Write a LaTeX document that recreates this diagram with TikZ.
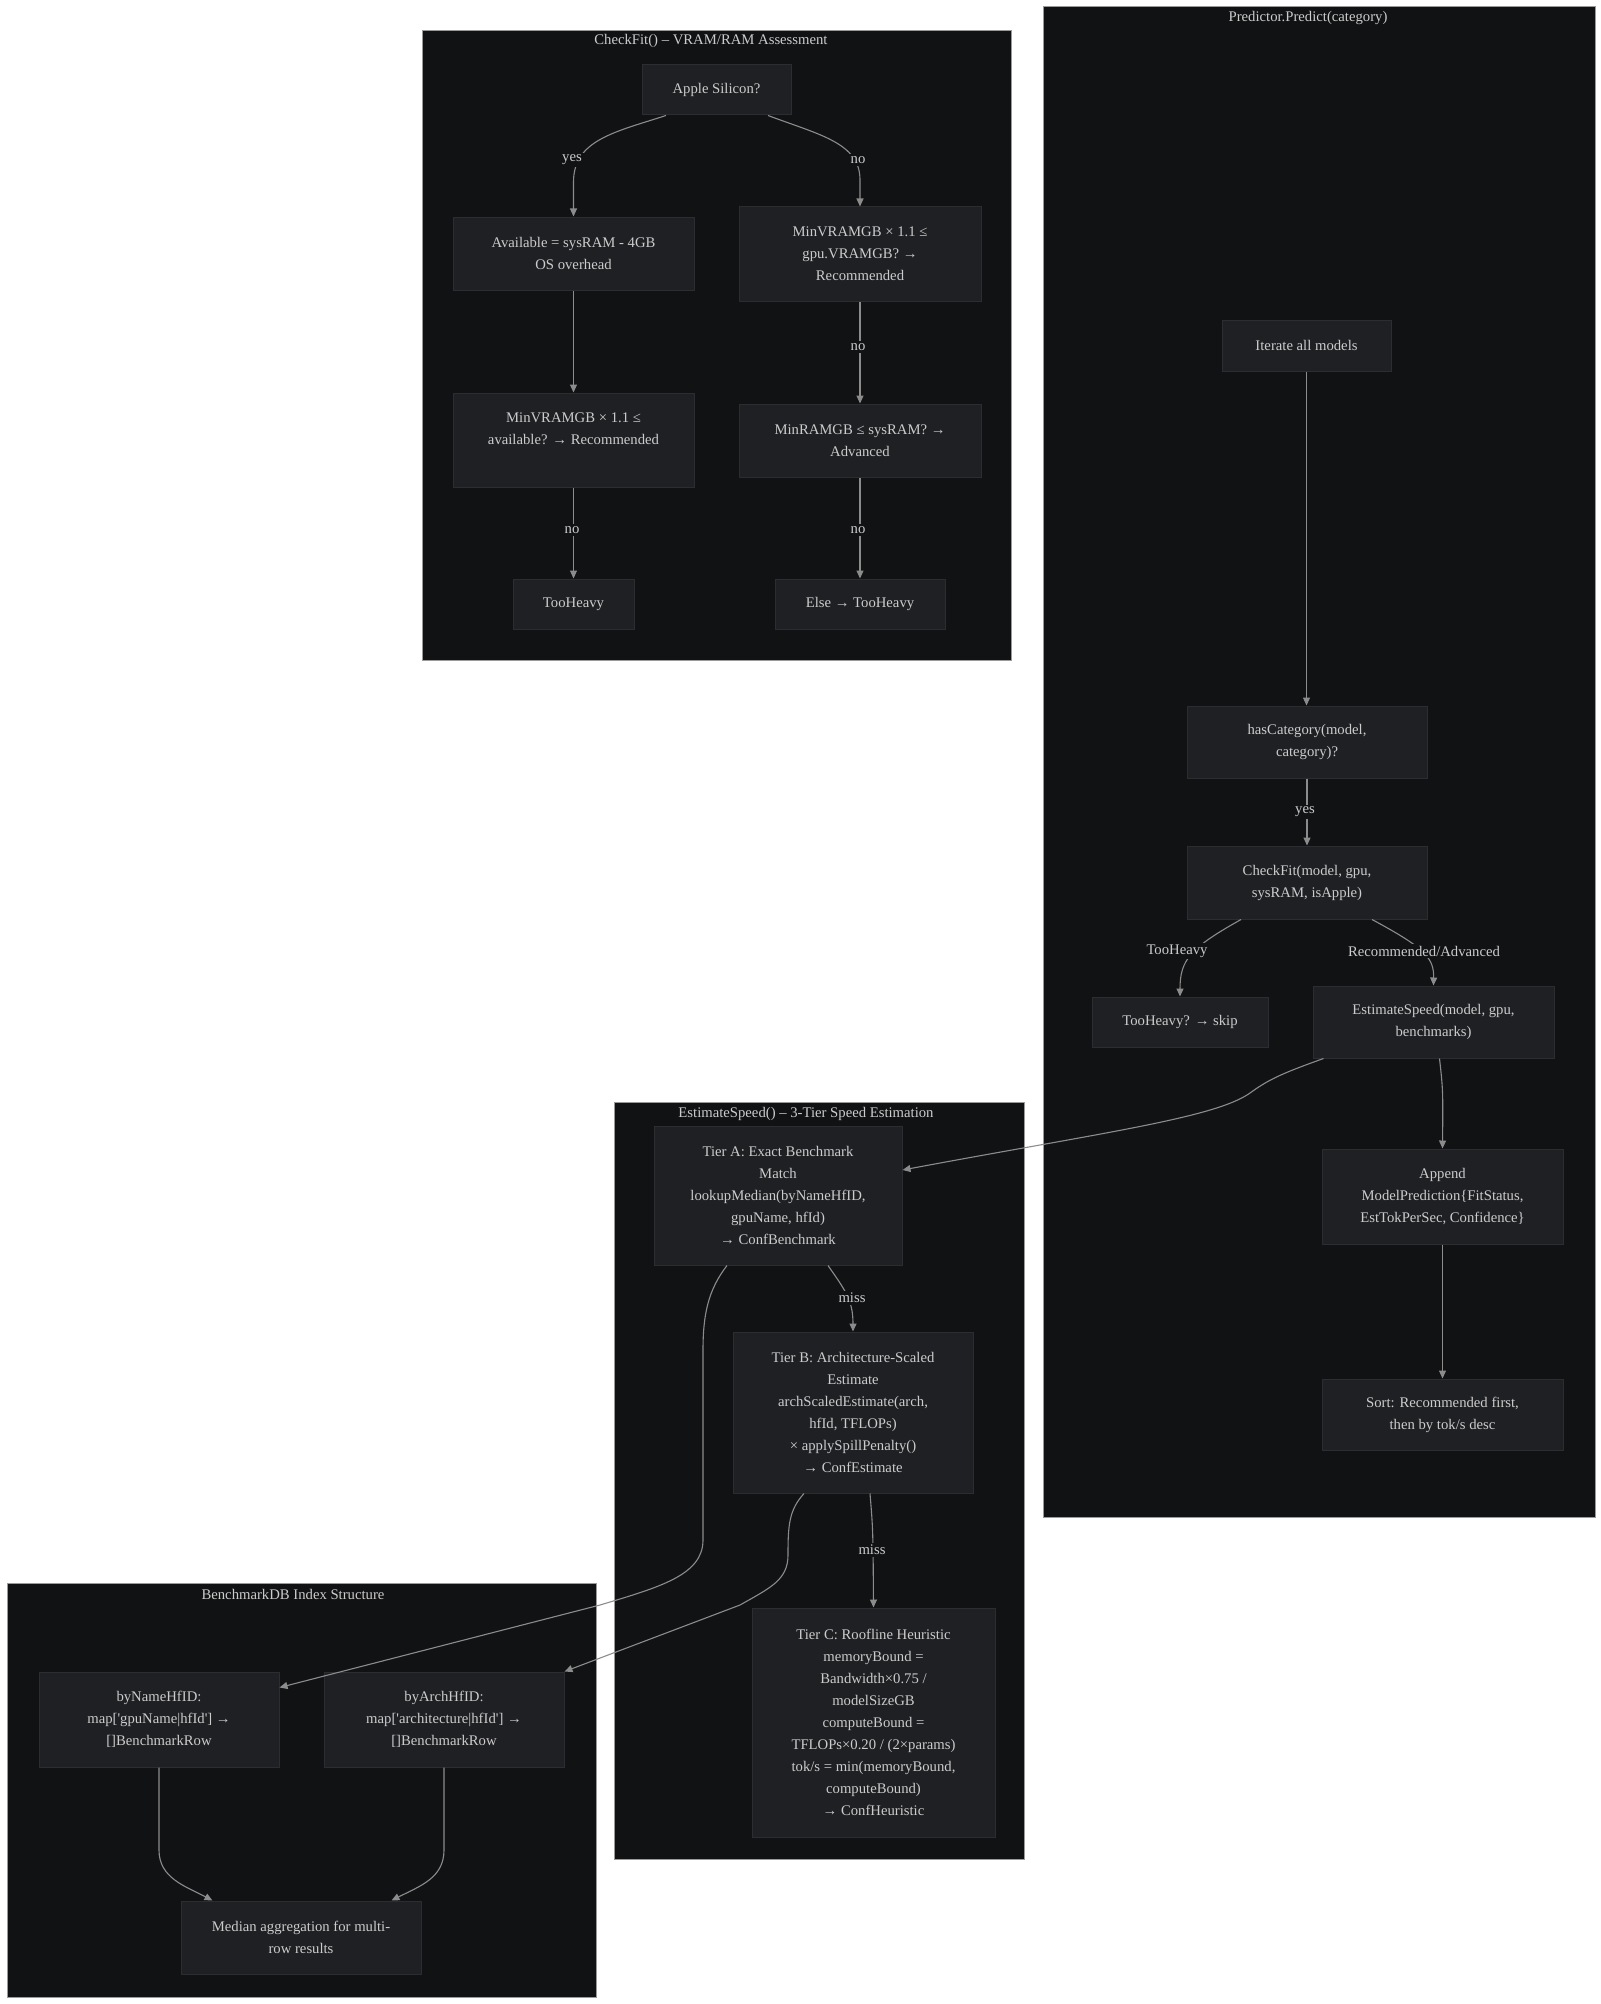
\documentclass[tikz,border=0pt]{standalone}
\usepackage{fontspec}
\setmainfont{Liberation Serif}
\usetikzlibrary{arrows.meta,calc}
\definecolor{clbg}{HTML}{111214}
\definecolor{clbd}{HTML}{9A9A9A}
\definecolor{nbg}{HTML}{1F2023}
\definecolor{nbd}{HTML}{2C2D30}
\definecolor{txt}{HTML}{CCCCCC}
\definecolor{edg}{HTML}{8C8C8C}
\begin{document}
\begin{tikzpicture}[x=1pt,y=-1pt,
  every node/.style={font=\fontsize{14.7}{22}\selectfont, text=txt},
  cluster/.style={draw=clbd, line width=1pt, fill=clbg, rectangle, inner sep=0pt},
  ctitle/.style={inner sep=0pt},
  box/.style={draw=nbd, line width=1pt, fill=nbg, rectangle, align=center, inner sep=0pt},
  edge/.style={draw=edg, line width=1.1pt, -{Triangle[length=8pt,width=7pt]}},
  lbl/.style={fill=clbg, inner sep=2pt},
]
\useasboundingbox (0,0) rectangle (1600,2004);
\fill[white] (0,0) rectangle (1600,2004);

% clusters
\node[cluster, minimum width=589, minimum height=629] (cfc) at (716.5,345.5) {};
\node[cluster, minimum width=552, minimum height=1510] (predc) at (1319,762) {};
\node[cluster, minimum width=410, minimum height=757] (estc) at (819,1480.5) {};
\node[cluster, minimum width=589, minimum height=414] (bdbc) at (301.5,1790) {};
\node[ctitle] (cfct) at (711,41) {CheckFit() – VRAM/RAM Assessment};
\node[ctitle] (predt) at (1308,18) {Predictor.Predict(category)};
\node[ctitle] (estt) at (806,1114) {EstimateSpeed() – 3-Tier Speed Estimation};
\node[ctitle] (bdbt) at (293,1594) {BenchmarkDB Index Structure};

% CheckFit nodes
\node[box, minimum width=149, minimum height=50] (apple) at (716.5,90) {Apple Silicon?};
\node[box, minimum width=241, minimum height=73] (avail) at (573.5,253.5) {Available = sysRAM - 4GB\\OS overhead};
\node[box, minimum width=242, minimum height=94] (vramR) at (860,254) {MinVRAMGB × 1.1 ≤\\gpu.VRAMGB? →\\Recommended};
\node[box, minimum width=241, minimum height=94] (vramL) at (573.5,440) {MinVRAMGB × 1.1 ≤\\available? → Recommended\\\mbox{}};
\node[box, minimum width=242, minimum height=73] (ramR) at (860,440.5) {MinRAMGB ≤ sysRAM? →\\Advanced};
\node[box, minimum width=121, minimum height=50] (heavyL) at (573.5,604) {TooHeavy};
\node[box, minimum width=170, minimum height=50] (elseR) at (860,604) {Else → TooHeavy};

% Predictor nodes
\node[box, minimum width=169, minimum height=51] (iter) at (1306.5,345.5) {Iterate all models};
\node[box, minimum width=240, minimum height=72] (hascat) at (1307,742) {hasCategory(model,\\category)?};
\node[box, minimum width=240, minimum height=73] (chk) at (1307,882.5) {CheckFit(model, gpu,\\sysRAM, isApple)};
\node[box, minimum width=176, minimum height=50] (skip) at (1180,1022) {TooHeavy? → skip};
\node[box, minimum width=241, minimum height=72] (est) at (1433.5,1022) {EstimateSpeed(model, gpu,\\benchmarks)};
\node[box, minimum width=241, minimum height=95] (append) at (1442.5,1196.5) {Append\\ModelPrediction\{FitStatus,\\EstTokPerSec, Confidence\}};
\node[box, minimum width=241, minimum height=71] (sort) at (1442.5,1414.5) {Sort: Recommended first,\\then by tok/s desc};

% EstimateSpeed nodes
\node[box, minimum width=248, minimum height=139] (tierA) at (778,1195.5) {Tier A: Exact Benchmark\\Match\\lookupMedian(byNameHfID,\\gpuName, hfId)\\→ ConfBenchmark};
\node[box, minimum width=240, minimum height=161] (tierB) at (853,1412.5) {Tier B: Architecture-Scaled\\Estimate\\archScaledEstimate(arch,\\hfId, TFLOPs)\\× applySpillPenalty()\\→ ConfEstimate};
\node[box, minimum width=243, minimum height=229] (tierC) at (873.5,1722.5) {Tier C: Roofline Heuristic\\memoryBound =\\Bandwidth×0.75 /\\modelSizeGB\\computeBound =\\TFLOPs×0.20 / (2×params)\\tok/s = min(memoryBound,\\computeBound)\\→ ConfHeuristic};

% BenchmarkDB nodes
\node[box, minimum width=240, minimum height=95] (byname) at (159,1719.5) {byNameHfID:\\map[\textquotesingle gpuName|hfId\textquotesingle] →\\{[]}BenchmarkRow};
\node[box, minimum width=240, minimum height=95] (byarch) at (444,1719.5) {byArchHfID:\\map[\textquotesingle architecture|hfId\textquotesingle] →\\{[]}BenchmarkRow};
\node[box, minimum width=240, minimum height=73] (median) at (301,1937.5) {Median aggregation for multi-\\row results};

% CheckFit edges
\draw[edge] ([xshift=-50.5pt]apple.south) .. controls (615,132) and (573.5,140) .. (573.5,182) -- (avail.north);
\draw[edge] ([xshift=51.5pt]apple.south) .. controls (820,135) and (860,143) .. (860,180) -- (vramR.north);
\draw[edge] (avail.south) -- (vramL.north);
\draw[edge] (vramL.south) -- (heavyL.north);
\draw[edge] (vramR.south) -- (ramR.north);
\draw[edge] (ramR.south) -- (elseR.north);
\node[lbl] (l1) at (572,160) {yes};
\node[lbl] (l2) at (858,160) {no};
\node[lbl] (l3) at (858,347) {no};
\node[lbl] (l4) at (572,530) {no};
\node[lbl] (l5) at (858,530) {no};

% Predictor edges
\draw[edge] (iter.south) -- (iter.south |- hascat.north);
\draw[edge] (hascat.south) -- (hascat.south |- chk.north);
\draw[edge] ([xshift=-66pt]chk.south) .. controls (1190,948) and (1180,960) .. (skip.north);
\draw[edge] ([xshift=65pt]chk.south) .. controls (1425,948) and (1434,958) .. (est.north);
\draw[edge] ([xshift=6pt]est.south) .. controls (1443,1090) .. (append.north);
\draw[edge] (append.south) -- (append.south |- sort.north);
\draw[edge] ([xshift=-110pt]est.south) .. controls (1280,1074) and (1268,1080) .. (1250,1093) .. controls (1215,1118) and (1100,1133) .. ($(tierA.east)+(0,-25.5)$);
\node[lbl] (l6) at (1305,812) {yes};
\node[lbl] (l7) at (1177,951) {TooHeavy};
\node[lbl] (l8) at (1424,951) {Recommended/Advanced};

% EstimateSpeed edges
\draw[edge] ([xshift=50pt]tierA.south) .. controls (845,1290) and (853,1300) .. (tierB.north);
\draw[edge] ([xshift=17pt]tierB.south) .. controls (873,1530) .. (tierC.north);
\draw[edge] ([xshift=-51pt]tierA.south) .. controls (708,1290) and (703,1315) .. (703,1350) -- (703,1540) .. controls (703,1575) and (660,1587) .. (600,1605) -- ($(byname.north east)+(0,16)$);
\draw[edge] ([xshift=-49pt]tierB.south) .. controls (789,1510) and (788,1525) .. (788,1555) .. controls (788,1580) and (770,1588) .. (740,1605) -- (byarch.north east);
\node[lbl] (l9) at (852,1298) {miss};
\node[lbl] (l10) at (872,1550) {miss};

% BenchmarkDB edges
\draw[edge] (byname.south) -- (159,1850) .. controls (159,1878) and (185,1886) .. ($(median.north west)+(32,0)$);
\draw[edge] (byarch.south) -- (444,1850) .. controls (444,1878) and (420,1886) .. ($(median.north east)+(-30,0)$);
\end{tikzpicture}
\end{document}
